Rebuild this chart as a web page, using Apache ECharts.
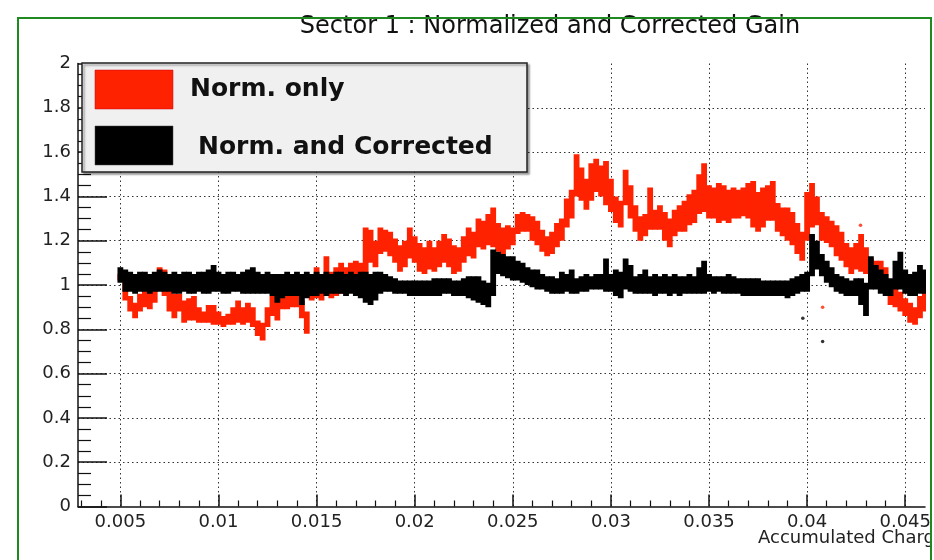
<!DOCTYPE html>
<html>
<head>
<meta charset="utf-8">
<script src="https://cdn.jsdelivr.net/npm/echarts@6/dist/echarts.min.js"></script>
<style>
html,body{margin:0;padding:0;background:#fff;}
#c{width:934px;height:560px;}
</style>
</head>
<body>
<div id="c"></div>
<script>
// ---- data ----
const titleText = 'Sector 1 : Normalized and Corrected Gain';
const xAxisName = 'Accumulated Charge';
const seriesNames = ['Norm. only', 'Norm. and Corrected'];
const xMajorTicks = [0.005, 0.01, 0.015, 0.02, 0.025, 0.03, 0.035, 0.04, 0.045];
const xMinorTicks = [0.003,0.004,0.006,0.007,0.008,0.009,0.011,0.012,0.013,0.014,0.016,0.017,0.018,0.019,0.021,0.022,0.023,0.024,0.026,0.027,0.028,0.029,0.031,0.032,0.033,0.034,0.036,0.037,0.038,0.039,0.041,0.042,0.043,0.044];

const xs = [0.005,0.00525,0.0055,0.00575,0.006,0.00625,0.0065,0.00675,0.007,0.00725,0.0075,0.00775,0.008,0.00825,0.0085,0.00875,0.009,0.00925,0.0095,0.00975,
0.01,0.01025,0.0105,0.01075,0.011,0.01125,0.0115,0.01175,0.012,0.01225,0.0125,0.01275,0.013,0.01325,0.0135,0.01375,0.014,0.01425,0.0145,0.01475,
0.015,0.01525,0.0155,0.01575,0.016,0.01625,0.0165,0.01675,0.017,0.01725,0.0175,0.01775,0.018,0.01825,0.0185,0.01875,0.019,0.01925,0.0195,0.01975,
0.02,0.02025,0.0205,0.02075,0.021,0.02125,0.0215,0.02175,0.022,0.02225,0.0225,0.02275,0.023,0.02325,0.0235,0.02375,0.024,0.02425,0.0245,0.02475,
0.025,0.02525,0.0255,0.02575,0.026,0.02625,0.0265,0.02675,0.027,0.02725,0.0275,0.02775,0.028,0.02825,0.0285,0.02875,0.029,0.02925,0.0295,0.02975,
0.03,0.03025,0.0305,0.03075,0.031,0.03125,0.0315,0.03175,0.032,0.03225,0.0325,0.03275,0.033,0.03325,0.0335,0.03375,0.034,0.03425,0.0345,0.03475,
0.035,0.03525,0.0355,0.03575,0.036,0.03625,0.0365,0.03675,0.037,0.03725,0.0375,0.03775,0.038,0.03825,0.0385,0.03875,0.039,0.03925,0.0395,0.03975,
0.04,0.04025,0.0405,0.04075,0.041,0.04125,0.0415,0.04175,0.042,0.04225,0.0425,0.04275,0.043,0.04325,0.0435,0.04375,0.044,0.04425,0.0445,0.04475,
0.045,0.04525,0.0455,0.04575,0.046];

const redLo = [1.02,0.93,0.88,0.85,0.88,0.90,0.89,0.92,0.98,0.95,
0.88,0.85,0.88,0.83,0.84,0.84,0.83,0.83,0.83,0.82,
0.82,0.81,0.82,0.82,0.83,0.82,0.83,0.81,0.77,0.75,
0.81,0.86,0.84,0.89,0.89,0.90,0.90,0.85,0.78,0.93,
0.94,0.93,0.96,0.94,0.95,0.96,0.96,0.97,0.99,1.00,
1.02,1.10,1.08,1.14,1.15,1.13,1.10,1.06,1.08,1.12,
1.10,1.06,1.05,1.07,1.06,1.08,1.10,1.08,1.05,1.06,
1.10,1.13,1.12,1.17,1.16,1.18,1.17,1.15,1.14,1.16,
1.18,1.23,1.24,1.24,1.20,1.18,1.15,1.13,1.14,1.17,
1.20,1.26,1.30,1.40,1.38,1.34,1.38,1.42,1.40,1.36,
1.33,1.28,1.26,1.36,1.30,1.24,1.20,1.22,1.25,1.25,
1.25,1.20,1.17,1.22,1.24,1.24,1.27,1.28,1.32,1.33,
1.30,1.30,1.28,1.29,1.28,1.30,1.30,1.31,1.30,1.26,
1.24,1.26,1.29,1.29,1.24,1.22,1.20,1.18,1.14,1.11,
1.20,1.26,1.27,1.20,1.19,1.17,1.13,1.11,1.08,1.05,
1.07,1.06,1.05,1.00,0.99,1.00,0.98,0.91,0.90,0.88,
0.86,0.83,0.82,0.85,0.88];

const redHi = [1.05,1.01,0.95,0.92,0.96,0.98,0.98,1.00,1.08,1.07,
0.98,0.96,0.96,0.93,0.94,0.95,0.90,0.88,0.91,0.91,
0.88,0.86,0.87,0.90,0.93,0.90,0.92,0.90,0.84,0.83,
0.90,0.95,0.95,0.98,0.98,0.98,0.97,0.93,0.88,1.04,
1.08,1.05,1.13,1.06,1.08,1.10,1.08,1.10,1.11,1.10,
1.26,1.25,1.20,1.26,1.25,1.24,1.21,1.18,1.20,1.26,
1.22,1.19,1.17,1.20,1.17,1.20,1.23,1.21,1.18,1.17,
1.22,1.26,1.24,1.30,1.29,1.32,1.35,1.28,1.26,1.27,
1.26,1.32,1.33,1.32,1.31,1.29,1.25,1.22,1.24,1.28,
1.30,1.39,1.43,1.59,1.53,1.48,1.55,1.57,1.54,1.56,
1.48,1.40,1.38,1.52,1.45,1.36,1.31,1.32,1.44,1.34,
1.36,1.33,1.30,1.34,1.36,1.38,1.41,1.43,1.50,1.55,
1.45,1.44,1.46,1.45,1.43,1.44,1.43,1.44,1.46,1.47,
1.42,1.44,1.45,1.47,1.37,1.35,1.35,1.33,1.28,1.24,
1.42,1.46,1.40,1.33,1.31,1.29,1.27,1.24,1.19,1.17,
1.19,1.23,1.17,1.12,1.11,1.11,1.08,1.02,0.99,0.97,
0.94,0.92,0.90,0.95,1.00];

const blackLo = [1.01,0.97,0.97,0.96,0.97,0.97,0.96,0.97,0.97,0.97,
0.97,0.96,0.96,0.97,0.96,0.96,0.97,0.96,0.96,0.97,
0.97,0.96,0.96,0.97,0.97,0.96,0.96,0.96,0.96,0.96,
0.96,0.95,0.92,0.94,0.95,0.95,0.95,0.91,0.94,0.95,
0.95,0.96,0.95,0.96,0.96,0.96,0.95,0.96,0.95,0.94,
0.92,0.91,0.93,0.96,0.97,0.97,0.96,0.96,0.96,0.95,
0.95,0.95,0.95,0.95,0.95,0.95,0.96,0.96,0.95,0.95,
0.95,0.94,0.93,0.92,0.91,0.90,0.95,1.05,1.04,1.03,
1.02,1.02,1.01,1.00,0.99,0.98,0.98,0.97,0.96,0.96,
0.96,0.97,0.96,0.96,0.97,0.97,0.98,0.98,0.98,0.97,
0.97,0.95,0.94,0.98,0.97,0.96,0.96,0.96,0.96,0.95,
0.96,0.96,0.95,0.96,0.95,0.96,0.96,0.96,0.96,0.96,
0.97,0.96,0.97,0.96,0.96,0.96,0.96,0.95,0.95,0.95,
0.95,0.95,0.95,0.95,0.95,0.95,0.94,0.95,0.96,0.97,
0.97,1.04,1.07,1.04,1.01,0.99,0.97,0.96,0.95,0.95,
0.95,0.91,0.86,0.98,0.98,0.96,0.95,0.95,0.98,0.98,
0.96,0.95,0.95,0.96,0.96];

const blackHi = [1.08,1.07,1.06,1.05,1.06,1.06,1.05,1.06,1.07,1.06,
1.05,1.06,1.05,1.06,1.06,1.05,1.06,1.06,1.07,1.09,
1.06,1.05,1.06,1.06,1.05,1.06,1.07,1.08,1.06,1.05,
1.06,1.05,1.05,1.05,1.06,1.05,1.06,1.05,1.06,1.05,
1.06,1.05,1.06,1.05,1.06,1.06,1.05,1.06,1.05,1.06,
1.06,1.05,1.06,1.06,1.05,1.04,1.03,1.02,1.02,1.02,
1.02,1.02,1.02,1.02,1.03,1.03,1.03,1.03,1.02,1.02,
1.03,1.04,1.04,1.04,1.02,1.01,1.16,1.15,1.14,1.13,
1.13,1.11,1.10,1.08,1.07,1.07,1.05,1.04,1.04,1.03,
1.06,1.05,1.07,1.03,1.04,1.05,1.04,1.05,1.05,1.12,
1.05,1.07,1.06,1.12,1.09,1.04,1.05,1.07,1.04,1.05,
1.04,1.05,1.04,1.05,1.04,1.04,1.05,1.04,1.08,1.11,
1.05,1.04,1.04,1.04,1.05,1.04,1.03,1.03,1.03,1.03,
1.03,1.02,1.02,1.02,1.02,1.02,1.02,1.03,1.04,1.05,
1.06,1.23,1.20,1.14,1.11,1.08,1.05,1.04,1.03,1.02,
1.03,1.03,1.01,1.13,1.09,1.07,1.05,1.03,1.11,1.15,
1.07,1.05,1.06,1.09,1.07];

const redOutlierX = [0.04079, 0.04272];
const redOutlierY = [0.90, 1.27];
const blackOutlierX = [0.03978, 0.04079];
const blackOutlierY = [0.85, 0.745];

// ---- build ----
const RED = '#ff2200';
const BLACK = '#000000';
const FONT = '"DejaVu Sans", "Liberation Sans", sans-serif';
const STEP = 0.00025;

function band(lo, hi) {
  const n = Math.min(xs.length, lo.length, hi.length);
  const out = [];
  for (let i = 0; i < n; i++) out.push([xs[i], lo[i], hi[i]]);
  return out;
}
function pts(xa, ya) { return xa.map((x, i) => [x, ya[i]]); }

function bandRenderer(color) {
  return function (params, api) {
    const x = api.value(0);
    const top = api.coord([x, api.value(2)]);
    const bot = api.coord([x, api.value(1)]);
    const w = api.size([STEP, 0])[0] + 0.9;
    return {
      type: 'rect',
      shape: { x: top[0] - w / 2, y: top[1], width: w, height: Math.max(1.5, bot[1] - top[1]) },
      style: { fill: color }
    };
  };
}

const dotted = { color: '#333', width: 1, type: [1.5, 3] };
const XMIN = 0.00284, XMAX = 0.046008;

const chart = echarts.init(document.getElementById('c'), null, { renderer: 'canvas' });
chart.setOption({
  animation: false,
  backgroundColor: '#ffffff',
  grid: { left: 78, top: 63.5, right: 3, bottom: 53.5, containLabel: false },
  xAxis: [
    {
      type: 'value', min: XMIN, max: XMAX,
      axisLine: { show: true, onZero: false, lineStyle: { color: '#111', width: 1.5 } },
      axisTick: { show: true, inside: true, length: 12, customValues: xMajorTicks, lineStyle: { color: '#111', width: 1.5 } },
      axisLabel: { show: true, customValues: xMajorTicks, margin: 7, color: '#222', fontSize: 18, fontFamily: FONT,
        formatter: v => String(v) },
      splitLine: { show: true, lineStyle: dotted }
    },
    {
      type: 'value', min: XMIN, max: XMAX, position: 'bottom', gridIndex: 0,
      axisLine: { show: false },
      axisTick: { show: true, inside: true, length: 6, customValues: xMinorTicks, lineStyle: { color: '#111', width: 1.2 } },
      axisLabel: { show: false },
      splitLine: { show: false }
    }
  ],
  yAxis: {
    type: 'value', min: 0, max: 2, interval: 0.2,
    axisLine: { show: true, onZero: false, lineStyle: { color: '#111', width: 1.5 } },
    axisTick: { show: true, inside: true, length: 29, lineStyle: { color: '#111', width: 1.5 } },
    minorTick: { show: true, splitNumber: 4, length: 13, lineStyle: { color: '#111', width: 1.2 } },
    axisLabel: { margin: 7, color: '#222', fontSize: 18, fontFamily: FONT },
    splitLine: { show: true, showMinLine: false, showMaxLine: false, lineStyle: dotted }
  },
  series: [
    { name: seriesNames[0], type: 'custom', clip: true, renderItem: bandRenderer(RED),
      encode: { x: 0, y: [1, 2] }, data: band(redLo, redHi), z: 3 },
    { name: seriesNames[1], type: 'custom', clip: true, renderItem: bandRenderer(BLACK),
      encode: { x: 0, y: [1, 2] }, data: band(blackLo, blackHi), z: 4 },
    { type: 'scatter', symbolSize: 3.5, itemStyle: { color: RED }, data: pts(redOutlierX, redOutlierY), z: 5 },
    { type: 'scatter', symbolSize: 3.5, itemStyle: { color: BLACK }, data: pts(blackOutlierX, blackOutlierY), z: 5 }
  ],
  graphic: [
    { type: 'text', left: 758, top: 529, z: 10,
      style: { text: xAxisName, font: '18px ' + FONT, fill: '#222' } },
    { type: 'text', x: 550, y: 27, z: 10,
      style: { text: titleText, font: '24px ' + FONT, fill: '#111', align: 'center', verticalAlign: 'middle' } },
    // legend box
    { type: 'rect', shape: { x: 82, y: 63, width: 445, height: 109 }, z: 20,
      style: { fill: '#f0f0f0', stroke: '#222', lineWidth: 1.5, shadowColor: 'rgba(0,0,0,0.35)', shadowOffsetX: 2, shadowOffsetY: 2, shadowBlur: 2 } },
    { type: 'rect', shape: { x: 95, y: 70, width: 78, height: 39 }, z: 21, style: { fill: RED, stroke: '#c01', lineWidth: 0.5 } },
    { type: 'rect', shape: { x: 95, y: 126, width: 78, height: 39 }, z: 21, style: { fill: BLACK, stroke: '#444', lineWidth: 0.5 } },
    { type: 'text', x: 190, y: 89, z: 21,
      style: { text: seriesNames[0], font: 'bold 25px ' + FONT, fill: '#111', verticalAlign: 'middle' } },
    { type: 'text', x: 198, y: 147, z: 21,
      style: { text: seriesNames[1], font: 'bold 25px ' + FONT, fill: '#111', verticalAlign: 'middle' } },
    // clip right edge + green border
    { type: 'rect', shape: { x: 932, y: 0, width: 10, height: 560 }, z: 50, style: { fill: '#fff' } },
    { type: 'polyline', shape: { points: [[18, 560], [18, 18], [931, 18], [931, 560]] }, z: 51,
      style: { stroke: '#1f8a1f', lineWidth: 2, fill: null } }
  ]
});
</script>
</body>
</html>
